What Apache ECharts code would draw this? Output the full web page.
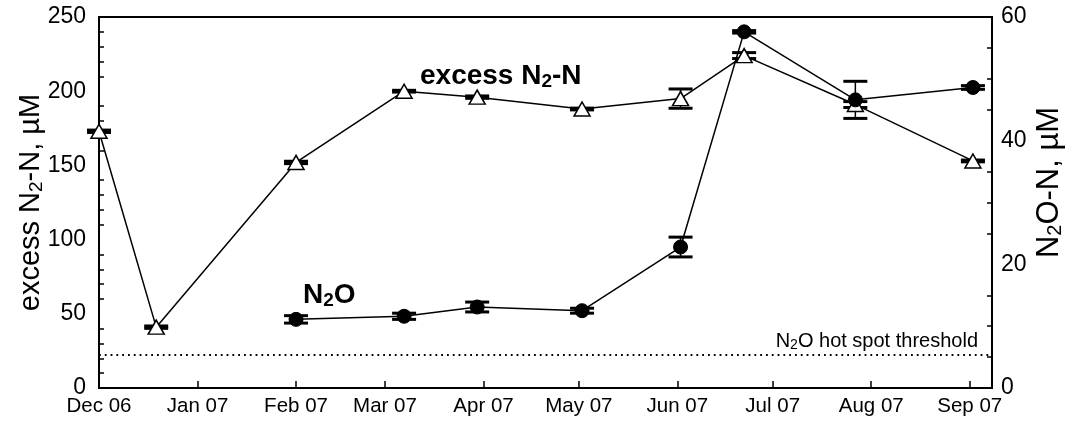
<!DOCTYPE html>
<html>
<head>
<meta charset="utf-8">
<script src="https://cdn.jsdelivr.net/npm/echarts@6/dist/echarts.min.js"></script>
<style>
  html, body { margin: 0; padding: 0; background: #fff; }
  #chart { width: 1092px; height: 428px; }
</style>
</head>
<body>
<div id="chart"></div>
<script>
// Sampling dates and values for excess N2-N (left axis, µM)
const n2Dates  = ['2006-12-01', '2006-12-19', '2007-02-01', '2007-03-07', '2007-03-30',
                  '2007-05-02', '2007-06-02', '2007-06-22', '2007-07-27', '2007-09-02'];
const n2Values = [173, 41, 152, 200, 196, 188, 195, 224, 191, 153];
const n2Errors = [0.8, 0.8, 0.8, 0.6, 0.8, 0.6, 6.5, 2, 2, 0.6];

// Sampling dates and values for N2O-N (right axis, µM)
const n2oDates  = ['2007-02-01', '2007-03-07', '2007-03-30', '2007-05-02',
                   '2007-06-02', '2007-06-22', '2007-07-27', '2007-09-02'];
const n2oValues = [11.1, 11.6, 13.1, 12.5, 22.8, 57.6, 46.6, 48.6];
const n2oErrors = [0.6, 0.5, 0.8, 0.4, 1.6, 0.2, 3.0, 0.3];

// N2O hot spot threshold (right axis, µM)
const hotSpotThreshold = 5.4;

// Axis extents
const xStart = '2006-12-01';
const xEnd   = '2007-09-08';
const monthNames = ['Jan', 'Feb', 'Mar', 'Apr', 'May', 'Jun', 'Jul', 'Aug', 'Sep', 'Oct', 'Nov', 'Dec'];

const FONT = '"Liberation Sans", Arial, sans-serif';

function errorBars(dates, values, errors, yAxisIndex, capWidth) {
  return {
    type: 'custom',
    yAxisIndex: yAxisIndex,
    z: 1,
    silent: true,
    clip: false,
    data: dates.map((d, i) => [d, values[i] - errors[i], values[i] + errors[i]]),
    encode: { x: 0, y: [1, 2] },
    renderItem(params, api) {
      const t = api.value(0);
      const lo = api.coord([t, api.value(1)]);
      const hi = api.coord([t, api.value(2)]);
      const h = capWidth / 2;
      const st = { stroke: '#000', lineWidth: 1.5 };
      const cap = { stroke: '#000', lineWidth: 3 };
      return {
        type: 'group',
        children: [
          { type: 'line', shape: { x1: lo[0], y1: lo[1], x2: hi[0], y2: hi[1] }, style: st },
          { type: 'line', shape: { x1: lo[0] - h, y1: lo[1], x2: lo[0] + h, y2: lo[1] }, style: cap },
          { type: 'line', shape: { x1: hi[0] - h, y1: hi[1], x2: hi[0] + h, y2: hi[1] }, style: cap }
        ]
      };
    }
  };
}

const chart = echarts.init(document.getElementById('chart'), null, { renderer: 'canvas' });

chart.setOption({
  animation: false,
  backgroundColor: '#fff',
  textStyle: { fontFamily: FONT, color: '#000' },
  grid: {
    left: 99, right: 100, top: 17, bottom: 40,
    show: true, borderColor: '#000', borderWidth: 2, backgroundColor: 'transparent'
  },
  xAxis: {
    type: 'time',
    min: xStart,
    max: xEnd,
    minInterval: 28 * 86400000,
    maxInterval: 31 * 86400000,
    axisLine: { lineStyle: { color: '#000', width: 2 } },
    axisTick: { inside: true, length: 7, lineStyle: { color: '#000', width: 1.5 } },
    splitLine: { show: false },
    axisLabel: {
      color: '#000', fontSize: 20.5, fontFamily: FONT, margin: 8,
      showMinLabel: true, hideOverlap: false,
      formatter: (v) => {
        const d = new Date(v);
        return monthNames[d.getMonth()] + ' ' + String(d.getFullYear() % 100).padStart(2, '0');
      }
    }
  },
  yAxis: [
    {
      type: 'value', min: 0, max: 250, interval: 50,
      position: 'left',
      name: 'excess N{sub|2}-N, µM',
      nameLocation: 'middle',
      nameMoveOverlap: false,
      nameGap: 53,
      nameRotate: 90,
      nameTextStyle: {
        color: '#000', fontSize: 29, fontFamily: FONT,
        rich: { sub: { fontSize: 19, fontFamily: FONT, color: '#000', padding: [11, 0, 0, 0] } }
      },
      axisLine: { show: true, lineStyle: { color: '#000', width: 2 } },
      axisTick: { inside: true, length: 8, lineStyle: { color: '#000', width: 1.5 } },
      minorTick: { show: true, splitNumber: 5, length: 5, lineStyle: { color: '#000', width: 1.5 } },
      splitLine: { show: false },
      axisLabel: { color: '#000', fontSize: 23, fontFamily: FONT, margin: 13 }
    },
    {
      type: 'value', min: 0, max: 60, interval: 20,
      position: 'right',
      name: 'N{sub|2}O-N, µM',
      nameLocation: 'middle',
      nameMoveOverlap: false,
      nameGap: 41,
      nameRotate: 90,
      nameTextStyle: {
        color: '#000', fontSize: 31, fontFamily: FONT,
        padding: [0, 0, 0, 40],
        rich: { sub: { fontSize: 20, fontFamily: FONT, color: '#000', padding: [12, 0, 0, 0] } }
      },
      axisLine: { show: true, lineStyle: { color: '#000', width: 2 } },
      axisTick: { inside: true, length: 8, lineStyle: { color: '#000', width: 1.5 } },
      minorTick: { show: true, splitNumber: 4, length: 5, lineStyle: { color: '#000', width: 1.5 } },
      splitLine: { show: false },
      axisLabel: { color: '#000', fontSize: 23, fontFamily: FONT, margin: 9 }
    }
  ],
  series: [
    errorBars(n2Dates, n2Values, n2Errors, 0, 24),
    errorBars(n2oDates, n2oValues, n2oErrors, 1, 24),
    {
      name: 'excess N2-N',
      type: 'line',
      yAxisIndex: 0,
      z: 3,
      clip: false,
      data: n2Dates.map((d, i) => [d, n2Values[i]]),
      symbol: 'triangle',
      symbolSize: [16, 14],
      lineStyle: { color: '#000', width: 1.5 },
      itemStyle: { color: '#fff', borderColor: '#000', borderWidth: 1.5 }
    },
    {
      name: 'N2O',
      type: 'line',
      yAxisIndex: 1,
      z: 4,
      clip: false,
      data: n2oDates.map((d, i) => [d, n2oValues[i]]),
      symbol: 'circle',
      symbolSize: 14,
      lineStyle: { color: '#000', width: 1.5 },
      itemStyle: { color: '#000', borderColor: '#000', borderWidth: 1 },
      markLine: {
        silent: true,
        symbol: 'none',
        lineStyle: { color: '#000', width: 1.8, type: [1.8, 4] },
        label: {
          position: 'insideEndTop',
          distance: [14, 2],
          color: '#000',
          fontSize: 20,
          fontFamily: FONT,
          formatter: 'N{sub|2}O hot spot threshold',
          rich: { sub: { fontSize: 14, fontFamily: FONT, color: '#000', padding: [8, 0, 0, 0] } }
        },
        data: [{ yAxis: hotSpotThreshold }]
      }
    }
  ],
  graphic: [
    {
      type: 'text',
      left: 420,
      top: 62,
      silent: true,
      style: {
        text: 'excess N{sub|2}-N',
        fill: '#000',
        font: 'bold 28px ' + FONT,
        rich: { sub: { fontSize: 19, fontWeight: 'bold', fontFamily: FONT, fill: '#000', padding: [12, 0, 0, 0] } }
      }
    },
    {
      type: 'text',
      left: 303,
      top: 281,
      silent: true,
      style: {
        text: 'N{sub|2}O',
        fill: '#000',
        font: 'bold 28px ' + FONT,
        rich: { sub: { fontSize: 19, fontWeight: 'bold', fontFamily: FONT, fill: '#000', padding: [12, 0, 0, 0] } }
      }
    }
  ]
});
</script>
</body>
</html>
